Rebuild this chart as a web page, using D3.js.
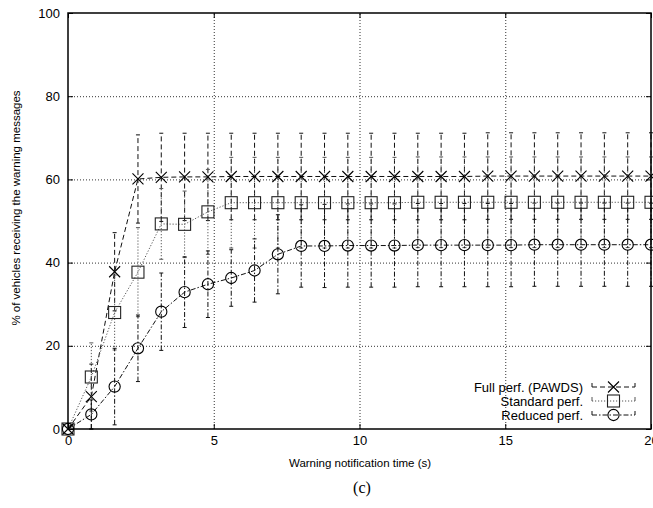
<!DOCTYPE html>
<html>
<head>
<meta charset="utf-8">
<script src="https://cdn.jsdelivr.net/npm/d3@7"></script>
<style>
  body { margin: 0; background: #fff; }
  svg { display: block; font-family: "Liberation Sans", Arial, sans-serif; }
</style>
</head>
<body>
<div class="graph-goes-here"></div>
<script>
// warning notification time (s)
var times = [0, 0.8, 1.6, 2.4, 3.2, 4.0, 4.8, 5.6, 6.4, 7.2, 8.0, 8.8, 9.6, 10.4, 11.2, 12.0,
    12.8, 13.6, 14.4, 15.2, 16.0, 16.8, 17.6, 18.4, 19.2, 20.0];

var fullPerf = [0, 7.8, 37.8, 60.1, 60.5, 60.6, 60.6, 60.7, 60.7, 60.7, 60.7, 60.7, 60.7,
    60.7, 60.7, 60.7, 60.7, 60.7, 60.8, 60.8, 60.8, 60.8, 60.8, 60.8, 60.8, 60.8];
var fullErr = [0, 7.8, 9.4, 10.6, 10.6, 10.5, 10.5, 10.4, 10.4, 10.4, 10.4, 10.4, 10.4,
    10.4, 10.4, 10.4, 10.4, 10.4, 10.4, 10.4, 10.4, 10.4, 10.4, 10.4, 10.4, 10.4];

var standardPerf = [0, 12.5, 28.0, 37.7, 49.3, 49.2, 52.2, 54.4, 54.4, 54.4, 54.4, 54.4, 54.4,
    54.4, 54.4, 54.5, 54.5, 54.5, 54.5, 54.5, 54.5, 54.5, 54.5, 54.5, 54.5, 54.5];
var standardErr = [0, 8.2, 9.0, 10.7, 8.5, 8.0, 10.2, 10.9, 10.9, 10.9, 10.9, 10.9, 10.9,
    10.9, 10.9, 10.9, 10.9, 10.9, 10.9, 10.9, 10.9, 10.9, 10.9, 10.9, 10.9, 10.9];

var reducedPerf = [0, 3.5, 10.2, 19.4, 28.2, 32.9, 34.8, 36.3, 38.1, 42.0, 44.0, 44.0, 44.1,
    44.1, 44.1, 44.2, 44.2, 44.2, 44.2, 44.2, 44.3, 44.3, 44.3, 44.3, 44.3, 44.3];
var reducedErr = [0, 3.5, 9.2, 8.0, 9.3, 8.5, 8.0, 6.8, 7.6, 9.5, 9.9, 10.0, 10.0,
    10.0, 10.0, 10.0, 10.0, 10.0, 10.0, 10.0, 10.0, 10.0, 10.0, 10.0, 10.0, 10.0];

var seriesNames = ["Full perf. (PAWDS)", "Standard perf.", "Reduced perf."];
var xTicks = [0, 5, 10, 15, 20];
var yTicks = [0, 20, 40, 60, 80, 100];

var svgWidth = 653, svgHeight = 508;
var plotLeft = 68, plotRight = 651, plotTop = 13, plotBottom = 429;

var svg = d3.select(".graph-goes-here")
    .append("svg")
    .attr("width", svgWidth)
    .attr("height", svgHeight);

var x = d3.scaleLinear().domain([0, 20]).range([plotLeft, plotRight]);
var y = d3.scaleLinear().domain([0, 100]).range([plotBottom, plotTop]);

// dotted grid
svg.append("g")
    .attr("transform", "translate(0," + plotBottom + ")")
    .call(d3.axisBottom(x).tickValues([5, 10, 15]).tickSize(-(plotBottom - plotTop)).tickFormat(""))
    .call(g => g.select(".domain").remove())
    .selectAll("line").attr("stroke", "#333").attr("stroke-dasharray", "1,2");

svg.append("g")
    .attr("transform", "translate(" + plotLeft + ",0)")
    .call(d3.axisLeft(y).tickValues([20, 40, 60, 80]).tickSize(-(plotRight - plotLeft)).tickFormat(""))
    .call(g => g.select(".domain").remove())
    .selectAll("line").attr("stroke", "#333").attr("stroke-dasharray", "1,2");

// styles for each series
var styles = [
    { values: fullPerf, err: fullErr, dash: "5,3", color: "#111", symbol: "x" },
    { values: standardPerf, err: standardErr, dash: "1.2,1.8", color: "#555", symbol: "square" },
    { values: reducedPerf, err: reducedErr, dash: "5,2,1.5,2", color: "#111", symbol: "circle" }
];

function drawSymbol(g, kind, cx, cy) {
    if (kind == "x") {
        g.append("path")
            .attr("d", "M" + (cx - 5.5) + "," + (cy - 5.5) + "L" + (cx + 5.5) + "," + (cy + 5.5) +
                "M" + (cx - 5.5) + "," + (cy + 5.5) + "L" + (cx + 5.5) + "," + (cy - 5.5))
            .attr("stroke", "#000").attr("stroke-width", 1.1).attr("fill", "none")
    }
    else if (kind == "square") {
        g.append("rect")
            .attr("x", cx - 6).attr("y", cy - 6).attr("width", 12).attr("height", 12)
            .attr("stroke", "#222").attr("stroke-width", 1.1).attr("fill", "none")
    }
    else {
        g.append("circle")
            .attr("cx", cx).attr("cy", cy).attr("r", 5.6)
            .attr("stroke", "#000").attr("stroke-width", 1.1).attr("fill", "none")
    }
}

styles.forEach(s => {
    var g = svg.append("g");
    var pts = times.map((t, i) => ({ t: t, v: s.values[i], e: s.err[i] }));

    // error bars
    pts.forEach(d => {
        if (d.e == 0) return;
        var lo = Math.max(0, d.v - d.e), hi = d.v + d.e;
        g.append("line")
            .attr("x1", x(d.t)).attr("x2", x(d.t))
            .attr("y1", y(lo)).attr("y2", y(hi))
            .attr("stroke", s.color).attr("stroke-width", 1).attr("stroke-dasharray", s.dash);
        [lo, hi].forEach(v => {
            g.append("line")
                .attr("x1", x(d.t) - 2).attr("x2", x(d.t) + 2)
                .attr("y1", y(v)).attr("y2", y(v))
                .attr("stroke", s.color).attr("stroke-width", 1);
        });
    });

    g.append("path")
        .datum(pts)
        .attr("fill", "none")
        .attr("stroke", s.color)
        .attr("stroke-width", 1)
        .attr("stroke-dasharray", s.dash)
        .attr("d", d3.line().x(d => x(d.t)).y(d => y(d.v)));

    pts.forEach(d => drawSymbol(g, s.symbol, x(d.t), y(d.v)));
});

// axes (ticks point inward, mirrored)
var xAxis = svg.append("g")
    .attr("transform", "translate(0," + plotBottom + ")")
    .call(d3.axisBottom(x).tickValues(xTicks).tickSizeInner(-5).tickSizeOuter(0).tickPadding(7))
xAxis.select(".domain").remove();
xAxis.selectAll("text").attr("font-size", 13).attr("fill", "#000").attr("font-family", "Liberation Sans, Arial, sans-serif");

svg.append("g")
    .attr("transform", "translate(0," + plotTop + ")")
    .call(d3.axisTop(x).tickValues(xTicks).tickSizeInner(-5).tickSizeOuter(0).tickFormat(""))
    .call(g => g.select(".domain").remove());

var yAxis = svg.append("g")
    .attr("transform", "translate(" + plotLeft + ",0)")
    .call(d3.axisLeft(y).tickValues(yTicks).tickSizeInner(-5).tickSizeOuter(0).tickPadding(8))
yAxis.select(".domain").remove();
yAxis.selectAll("text").attr("font-size", 13).attr("fill", "#000").attr("font-family", "Liberation Sans, Arial, sans-serif");

svg.append("g")
    .attr("transform", "translate(" + plotRight + ",0)")
    .call(d3.axisRight(y).tickValues(yTicks).tickSizeInner(-5).tickSizeOuter(0).tickFormat(""))
    .call(g => g.select(".domain").remove());

svg.append("rect")
    .attr("x", plotLeft).attr("y", plotTop)
    .attr("width", plotRight - plotLeft).attr("height", plotBottom - plotTop)
    .attr("fill", "none").attr("stroke", "#000").attr("stroke-width", 1.5);

// legend
var legend = svg.append("g");
styles.forEach((s, i) => {
    var ly = 387 + i * 14;
    legend.append("text")
        .attr("x", 583).attr("y", ly)
        .attr("dy", "0.35em")
        .attr("text-anchor", "end")
        .attr("font-size", 13)
        .text(seriesNames[i]);
    legend.append("line")
        .attr("x1", 592).attr("x2", 635).attr("y1", ly).attr("y2", ly)
        .attr("stroke", s.color).attr("stroke-width", 1).attr("stroke-dasharray", s.dash);
    [592, 635].forEach(lx => {
        legend.append("line")
            .attr("x1", lx).attr("x2", lx).attr("y1", ly - 4).attr("y2", ly)
            .attr("stroke", s.color).attr("stroke-width", 1);
    });
    drawSymbol(legend, s.symbol, 613.5, ly);
});

// labels
svg.append("text")
    .attr("x", 360).attr("y", 467)
    .attr("text-anchor", "middle")
    .attr("font-size", 11.5)
    .text("Warning notification time (s)");

svg.append("text")
    .attr("transform", "translate(16,208) rotate(-90)")
    .attr("text-anchor", "middle")
    .attr("dy", "0.35em")
    .attr("font-size", 11.5)
    .text("% of vehicles receiving the warning messages");

svg.append("text")
    .attr("x", 362).attr("y", 493)
    .attr("text-anchor", "middle")
    .attr("font-size", 16)
    .attr("font-family", "Liberation Serif, Times New Roman, serif")
    .text("(c)");
</script>
</body>
</html>
